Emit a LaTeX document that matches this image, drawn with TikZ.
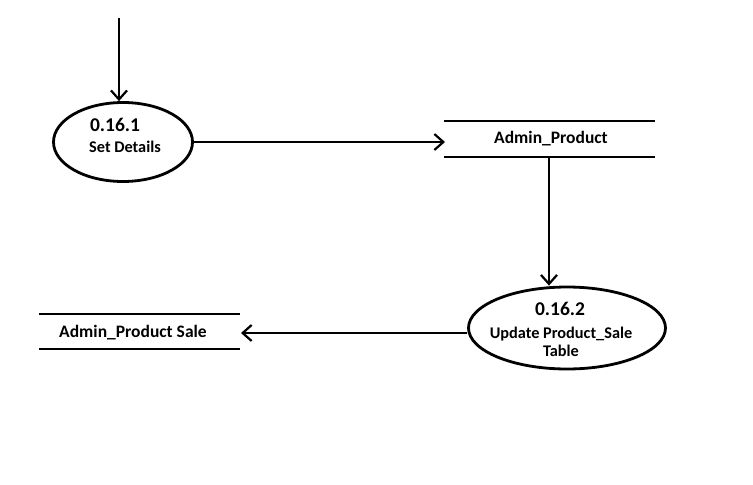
\documentclass[tikz,border=0pt]{standalone}
\usepackage{fontspec}
\setmainfont{Carlito}
\usetikzlibrary{shapes.geometric,arrows.meta}
\begin{document}
\begin{tikzpicture}[x=1pt,y=-1pt,
  line width=2.8pt,
  flow/.style={-{Straight Barb[length=9pt,width=16pt,line width=2.2pt]}},
  proc/.style={draw,ellipse,inner sep=0pt},
  numtxt/.style={font=\bfseries\fontsize{19.5}{22}\selectfont},
  proctxt/.style={font=\bfseries\fontsize{16.3}{18}\selectfont,align=center},
  storetxt/.style={font=\bfseries\fontsize{17.5}{20}\selectfont}]
\useasboundingbox (0,0) rectangle (753,485);
% processes
\node[proc,minimum width=139pt,minimum height=79pt] (p1) at (123,142) {};
\node[numtxt] (p1n) at (115,125) {0.16.1};
\node[proctxt] (p1t) at (125,147) {Set Details};
\node[proc,minimum width=197pt,minimum height=82pt] (p2) at (567,328) {};
\node[numtxt] (p2n) at (560,309) {0.16.2};
\node[proctxt] (p2t) at (561,342) {Update Product\_Sale\\Table};
% data stores
\coordinate (s1a) at (444,121); \coordinate (s1b) at (655,121);
\coordinate (s1c) at (444,157); \coordinate (s1d) at (655,157);
\draw (s1a) -- (s1b); \draw (s1c) -- (s1d);
\node[storetxt] (s1) at (551,139) {Admin\_Product};
\coordinate (s2a) at (39,314); \coordinate (s2b) at (240,314);
\coordinate (s2c) at (39,349); \coordinate (s2d) at (240,349);
\draw (s2a) -- (s2b); \draw (s2c) -- (s2d);
\node[storetxt] (s2) at (133,333) {Admin\_Product Sale};
% flows
\coordinate (src) at (119,18);
\coordinate (s1in) at (445,142);
\coordinate (s1out) at (549,157);
\coordinate (s2in) at (241,333);
\draw[flow] (src) -- (src |- p1.north);
\draw[flow] (p1.east) -- (s1in);
\draw[flow] (s1out) -- (s1out |- p2.north);
\draw[flow] (p2.west |- s2in) -- (s2in);
\end{tikzpicture}
\end{document}
